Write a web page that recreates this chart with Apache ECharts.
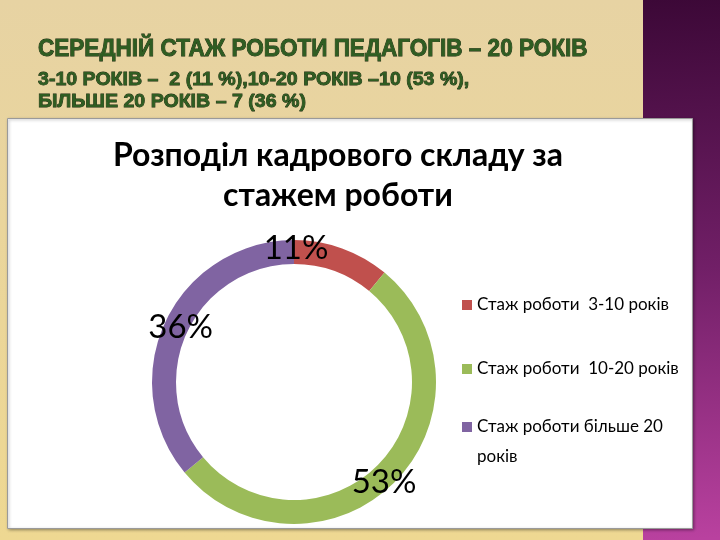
<!DOCTYPE html>
<html>
<head>
<meta charset="utf-8">
<script src="https://cdn.jsdelivr.net/npm/echarts@6/dist/echarts.min.js"></script>
<style>
html,body{margin:0;padding:0;width:720px;height:540px;overflow:hidden;}
#c{width:720px;height:540px;}
</style>
</head>
<body>
<div id="c"></div>
<script>
// ---- data ----
var categories = ['Стаж роботи  3-10 років', 'Стаж роботи  10-20 років', 'Стаж роботи більше 20 років'];
var percents = [11, 53, 36];
var colors = ['#c0504d', '#9bbb59', '#8064a2'];
var chartTitle = 'Розподіл кадрового складу за\nстажем роботи';
var slideTitleLines = [
  'СЕРЕДНІЙ СТАЖ РОБОТИ ПЕДАГОГІВ – 20 РОКІВ',
  '3-10 РОКІВ –  2 (11 %),10-20 РОКІВ –10 (53 %),',
  'БІЛЬШЕ 20 РОКІВ – 7 (36 %)'
];

var chart = echarts.init(document.getElementById('c'), null, {renderer: 'canvas'});

var slideFont = '"Liberation Sans", Arial, sans-serif';
var calFont = 'Lato, "Open Sans", sans-serif';
var labelOffsets = [[-43, -9], [-4, 6], [7, 2]];

var pieData = categories.map(function (n, i) {
  return {name: n, value: percents[i], itemStyle: {color: colors[i]}, label: {offset: labelOffsets[i]}};
});

function slideText(txt, y, size, sx) {
  return {type: 'text', z: 10, x: 38, y: y, scaleX: sx,
    style: {text: txt, font: 'bold ' + size + 'px ' + slideFont, fill: '#2f5d22',
      verticalAlign: 'middle', stroke: '#14240c', lineWidth: 0.8}};
}

var legendText = {fontFamily: calFont, fontSize: 17, color: '#000', lineHeight: 30};

var option = {
  animation: false,
  backgroundColor: 'transparent',
  graphic: {
    elements: [
      {type: 'rect', z: -20, shape: {x: 0, y: 0, width: 720, height: 540},
        style: {fill: new echarts.graphic.LinearGradient(0, 0, 0, 1, [
          {offset: 0, color: '#e7d3a3'}, {offset: 1, color: '#eed892'}])}},
      {type: 'rect', z: -19, shape: {x: 643, y: 0, width: 77, height: 540},
        style: {fill: new echarts.graphic.LinearGradient(0, 0, 0.3, 1, [
          {offset: 0, color: '#3c0837'}, {offset: 0.5, color: '#711f67'}, {offset: 1, color: '#b9419f'}])}},
      {type: 'rect', z: -18, shape: {x: 7.5, y: 118.5, width: 685, height: 410},
        style: {fill: '#ffffff', stroke: '#9a9a9a', lineWidth: 1,
          shadowBlur: 3, shadowColor: 'rgba(0,0,0,0.35)', shadowOffsetX: 1, shadowOffsetY: 1}},
      slideText(slideTitleLines[0], 50, 23, 0.98),
      slideText(slideTitleLines[1], 80, 19, 1.03),
      slideText(slideTitleLines[2], 102, 19, 1.03),
      {type: 'text', z: 10, x: 338, y: 136,
        style: {text: chartTitle, font: 'bold 32px ' + calFont, fill: '#000000',
          align: 'center', verticalAlign: 'top', lineHeight: 40}}
    ]
  },
  legend: [{
    orient: 'vertical',
    left: 457,
    top: 285,
    itemWidth: 10,
    itemHeight: 10,
    itemGap: 34,
    icon: 'rect',
    data: [categories[0], categories[1]],
    textStyle: legendText
  }, {
    orient: 'vertical',
    left: 457,
    top: 377,
    itemWidth: 10,
    itemHeight: 10,
    icon: 'rect',
    data: [categories[2]],
    formatter: function () { return '\nСтаж роботи більше 20\nроків'; },
    textStyle: legendText
  }],
  series: [{
    type: 'pie',
    center: [294, 382],
    radius: [118, 142],
    startAngle: 90,
    clockwise: true,
    silent: true,
    label: {
      show: true,
      position: 'inside',
      formatter: '{c}%',
      fontFamily: calFont,
      fontSize: 33,
      color: '#000',
      textBorderWidth: 0
    },
    labelLine: {show: false},
    data: pieData
  }]
};
chart.setOption(option);
</script>
</body>
</html>
